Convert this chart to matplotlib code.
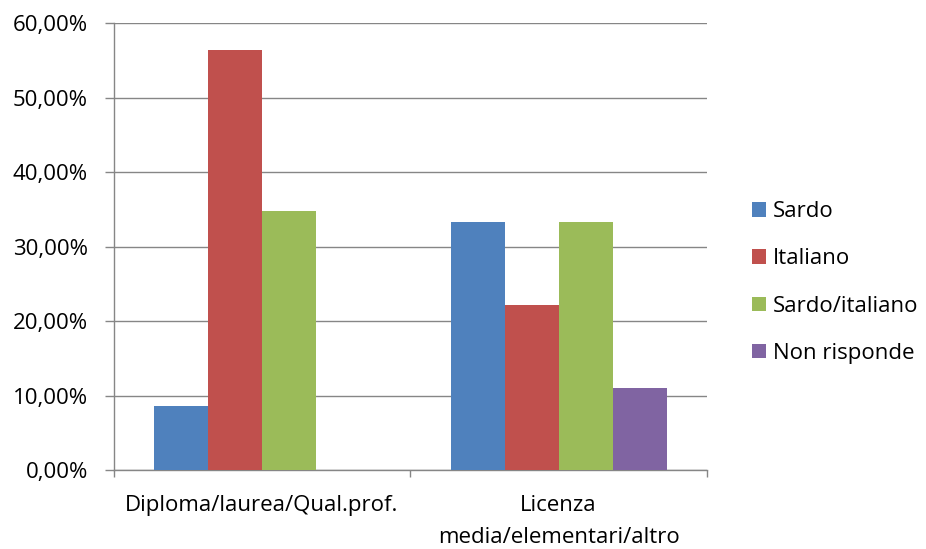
import matplotlib
matplotlib.use("Agg")
import matplotlib.pyplot as plt
from matplotlib.ticker import FuncFormatter, MultipleLocator
import numpy as np

plt.rcParams['font.family'] = ['Open Sans', 'DejaVu Sans']

categories = ["Diploma/laurea/Qual.prof.", "Licenza\nmedia/elementari/altro"]
series_names = ["Sardo", "Italiano", "Sardo/italiano", "Non risponde"]
series_values = [
    [8.7, 33.3],
    [56.5, 22.2],
    [34.8, 33.3],
    [0.0, 11.1],
]
colors = ["#4F81BD", "#C0504D", "#9BBB59", "#8064A2"]

FS = 16
AXIS_GREY = "#868686"

fig = plt.figure(figsize=(9.26, 5.49), dpi=100)
ax = fig.add_axes([0.1226, 0.1430, 0.6409, 0.8142])

n = len(series_names)
width = 1.0 / (n + 1.5)   # gap between clusters = 1.5 bar widths
x = np.arange(len(categories))
for i, (name, vals, c) in enumerate(zip(series_names, series_values, colors)):
    offs = (i - (n - 1) / 2) * width
    ax.bar(x + offs, vals, width=width, color=c, label=name, zorder=3)

ax.set_xlim(-0.5, len(categories) - 0.5)
ax.set_ylim(0, 60)
ax.yaxis.set_major_locator(MultipleLocator(10))
ax.yaxis.set_major_formatter(FuncFormatter(lambda v, p: f"{v:.2f}%".replace(".", ",")))
ax.grid(axis="y", color=AXIS_GREY, linewidth=1.0, zorder=0)

ax.set_xticks(x)
ax.set_xticklabels(categories, fontsize=FS, linespacing=1.64)
ax.set_xticks([-0.5, 0.5, 1.5], minor=True)
ax.tick_params(axis="x", which="major", length=0, pad=18)
ax.tick_params(axis="x", which="minor", length=5, color=AXIS_GREY, width=1.0)
ax.tick_params(axis="y", length=6.5, color=AXIS_GREY, width=1.0, labelsize=FS, pad=12)

for s in ["top", "right"]:
    ax.spines[s].set_visible(False)
for s in ["left", "bottom"]:
    ax.spines[s].set_color(AXIS_GREY)
    ax.spines[s].set_linewidth(1.0)

handles, labels = ax.get_legend_handles_labels()
fig.legend(handles, labels, loc="center left", bbox_to_anchor=(0.812, 0.4854),
           frameon=False, fontsize=FS, borderpad=0, borderaxespad=0,
           handlelength=0.63, handleheight=0.63, handletextpad=0.3,
           labelspacing=1.18)

fig.savefig("out.png", dpi=100)
